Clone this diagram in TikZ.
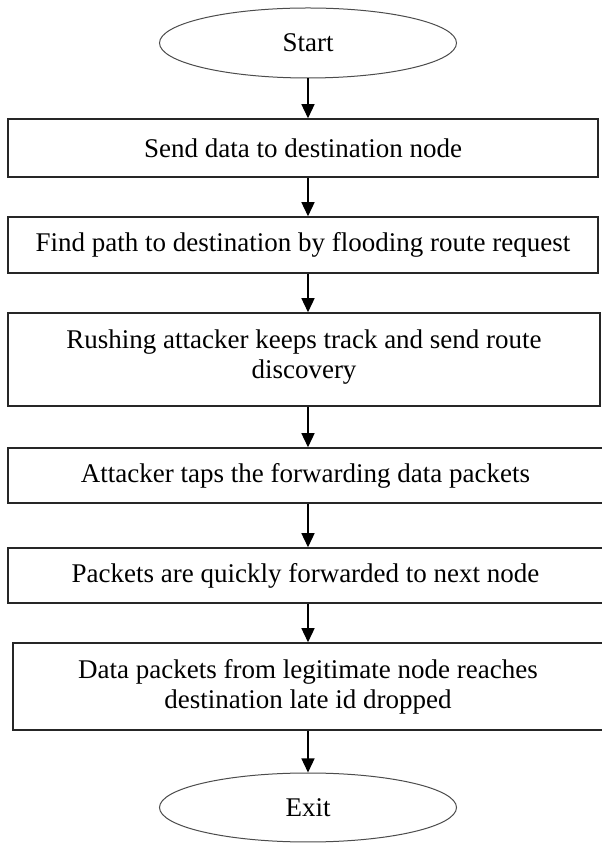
\documentclass[tikz,border=0pt]{standalone}
\usepackage{fontspec}
\setmainfont{Liberation Serif}
\usetikzlibrary{shapes.geometric,arrows.meta}
\begin{document}
\begin{tikzpicture}[x=1pt,y=1pt,
  txt/.style={font=\fontsize{27}{30}\selectfont, align=center, inner sep=0pt},
  procbox/.style={txt, draw=black!85, line width=1.5pt, rectangle},
  term/.style={txt, draw=black!70, line width=1pt, ellipse, minimum width=297pt, minimum height=70pt},
  arr/.style={draw=black, line width=1.3pt, -{Triangle[length=14pt,width=13pt]}}]
\useasboundingbox (0,0) rectangle (602,844);
\fill[white] (0,0) rectangle (602,844);
\coordinate (ax) at (308,0);
\node[term] (start) at (308,801) {Start};
\node[procbox, minimum width=590pt, minimum height=58pt] (b1) at (303,696) {Send data to destination node};
\node[procbox, minimum width=590pt, minimum height=56pt] (b2) at (303,599) {Find path to destination by flooding route request};
\node[procbox, minimum width=592pt, minimum height=93pt] (b3) at (304,484.5) {Rushing attacker keeps track and send route\\discovery\rule[-10pt]{0pt}{0pt}};
\node[procbox, minimum width=595pt, minimum height=55pt] (b4) at (305.5,368.5) {Attacker taps the forwarding data packets};
\node[procbox, minimum width=595pt, minimum height=55pt] (b5) at (305.5,268.5) {Packets are quickly forwarded to next node};
\node[procbox, minimum width=590pt, minimum height=87pt] (b6) at (308,157.5) {Data packets from legitimate node reaches\\destination late id dropped};
\node[term, minimum height=69pt] (exit) at (308,36.5) {Exit};
\draw[arr] (start.south -| ax) -- (b1.north -| ax);
\draw[arr] (b1.south -| ax) -- (b2.north -| ax);
\draw[arr] (b2.south -| ax) -- (b3.north -| ax);
\draw[arr] (b3.south -| ax) -- (b4.north -| ax);
\draw[arr] (b4.south -| ax) -- (b5.north -| ax);
\draw[arr] (b5.south -| ax) -- (b6.north -| ax);
\draw[arr] (b6.south -| ax) -- (exit.north -| ax);
\end{tikzpicture}
\end{document}
